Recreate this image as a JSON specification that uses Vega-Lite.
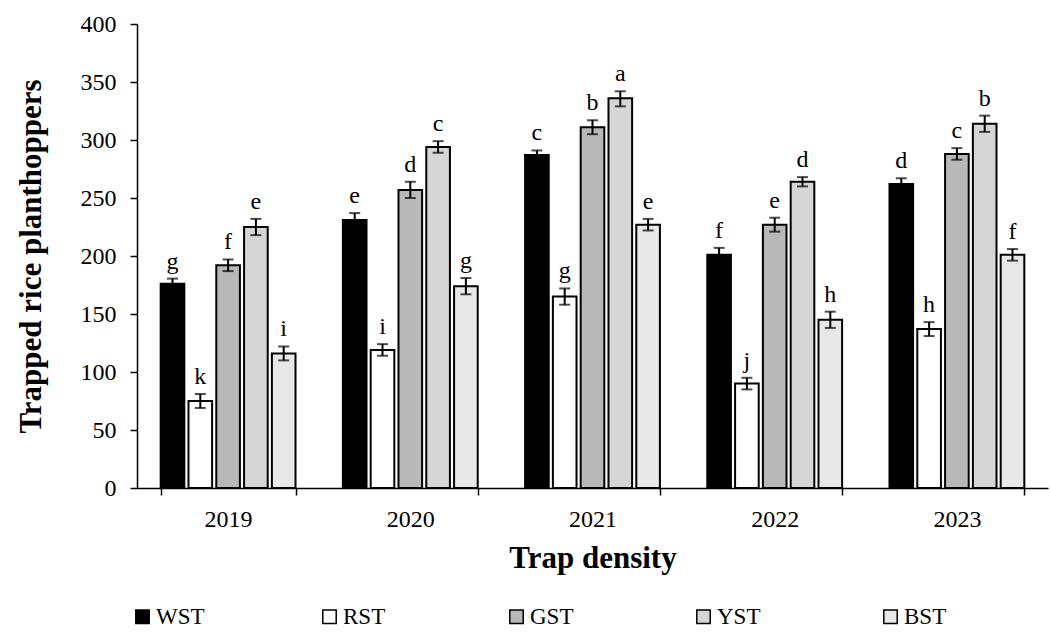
{
  "$schema": "https://vega.github.io/schema/vega-lite/v6.json",
  "width": 911,
  "height": 464,
  "autosize": {"type": "none"},
  "padding": {"left": 137, "top": 24, "right": 3, "bottom": 149},
  "background": "white",
  "config": {
    "view": {"stroke": null},
    "font": "Liberation Serif",
    "axis": {
      "domainColor": "black",
      "domainWidth": 1.5,
      "tickColor": "black",
      "tickWidth": 1.5,
      "tickSize": 7,
      "labelColor": "black",
      "labelFont": "Liberation Serif",
      "labelFontSize": 24,
      "titleColor": "black",
      "titleFont": "Liberation Serif",
      "titleFontSize": 31,
      "titleFontWeight": "bold",
      "grid": false
    },
    "legend": {
      "labelFont": "Liberation Serif",
      "labelFontSize": 23,
      "labelColor": "black"
    }
  },
  "data": {
    "values": [
      {"year": "2019", "trap": "WST", "value": 176, "lo": 171.5, "hi": 180.5, "letter": "g"},
      {"year": "2019", "trap": "RST", "value": 75, "lo": 69, "hi": 81, "letter": "k"},
      {"year": "2019", "trap": "GST", "value": 192, "lo": 187, "hi": 197, "letter": "f"},
      {"year": "2019", "trap": "YST", "value": 225, "lo": 218, "hi": 232, "letter": "e"},
      {"year": "2019", "trap": "BST", "value": 116, "lo": 110, "hi": 122, "letter": "i"},
      {"year": "2020", "trap": "WST", "value": 231, "lo": 225, "hi": 237, "letter": "e"},
      {"year": "2020", "trap": "RST", "value": 119, "lo": 114, "hi": 124, "letter": "i"},
      {"year": "2020", "trap": "GST", "value": 257, "lo": 250, "hi": 264, "letter": "d"},
      {"year": "2020", "trap": "YST", "value": 294, "lo": 289, "hi": 299, "letter": "c"},
      {"year": "2020", "trap": "BST", "value": 174, "lo": 167, "hi": 181, "letter": "g"},
      {"year": "2021", "trap": "WST", "value": 287, "lo": 283, "hi": 291, "letter": "c"},
      {"year": "2021", "trap": "RST", "value": 165, "lo": 158, "hi": 172, "letter": "g"},
      {"year": "2021", "trap": "GST", "value": 311, "lo": 305, "hi": 317, "letter": "b"},
      {"year": "2021", "trap": "YST", "value": 336, "lo": 329, "hi": 342, "letter": "a"},
      {"year": "2021", "trap": "BST", "value": 227, "lo": 222, "hi": 232, "letter": "e"},
      {"year": "2022", "trap": "WST", "value": 201, "lo": 195, "hi": 207, "letter": "f"},
      {"year": "2022", "trap": "RST", "value": 90, "lo": 85, "hi": 95, "letter": "j"},
      {"year": "2022", "trap": "GST", "value": 227, "lo": 221, "hi": 233, "letter": "e"},
      {"year": "2022", "trap": "YST", "value": 264, "lo": 260, "hi": 268, "letter": "d"},
      {"year": "2022", "trap": "BST", "value": 145, "lo": 138, "hi": 152, "letter": "h"},
      {"year": "2023", "trap": "WST", "value": 262, "lo": 257, "hi": 267, "letter": "d"},
      {"year": "2023", "trap": "RST", "value": 137, "lo": 131, "hi": 143, "letter": "h"},
      {"year": "2023", "trap": "GST", "value": 288, "lo": 283, "hi": 293, "letter": "c"},
      {"year": "2023", "trap": "YST", "value": 314, "lo": 307, "hi": 321, "letter": "b"},
      {"year": "2023", "trap": "BST", "value": 201, "lo": 196, "hi": 206, "letter": "f"}
    ]
  },
  "encoding": {
    "x": {
      "field": "year",
      "type": "nominal",
      "scale": {"paddingInner": 0.26, "paddingOuter": 0.13},
      "axis": {
        "title": "Trap density",
        "labelAngle": 0,
        "tickBand": "extent",
        "labelPadding": 12,
        "titlePadding": 12
      }
    },
    "xOffset": {
      "field": "trap",
      "type": "nominal",
      "sort": ["WST", "RST", "GST", "YST", "BST"],
      "scale": {"paddingInner": 0.15, "paddingOuter": 0}
    }
  },
  "layer": [
    {
      "mark": {"type": "bar", "stroke": "black", "strokeWidth": 2},
      "encoding": {
        "y": {
          "field": "value",
          "type": "quantitative",
          "scale": {"domain": [0, 400], "nice": false},
          "axis": {
            "title": "Trapped rice planthoppers",
            "values": [0, 50, 100, 150, 200, 250, 300, 350, 400],
            "labelPadding": 14,
            "titlePadding": 33
          }
        },
        "fill": {
          "field": "trap",
          "type": "nominal",
          "sort": ["WST", "RST", "GST", "YST", "BST"],
          "scale": {
            "domain": ["WST", "RST", "GST", "YST", "BST"],
            "range": ["#000000", "#ffffff", "#b8b8b8", "#d6d6d6", "#e8e8e8"]
          },
          "legend": {
            "title": null,
            "orient": "none",
            "legendX": -6,
            "legendY": 581,
            "direction": "horizontal",
            "columns": 5,
            "gridAlign": "all",
            "columnPadding": 113,
            "padding": 0,
            "symbolType": "square",
            "symbolSize": 180,
            "symbolStrokeColor": "black",
            "symbolStrokeWidth": 1.5,
            "symbolOpacity": 1,
            "labelOffset": 2
          }
        }
      }
    },
    {
      "mark": {"type": "rule", "color": "black", "strokeWidth": 2},
      "encoding": {
        "y": {"field": "lo", "type": "quantitative"},
        "y2": {"field": "hi"}
      }
    },
    {
      "mark": {"type": "tick", "color": "black", "size": 11, "thickness": 2, "orient": "horizontal"},
      "encoding": {"y": {"field": "hi", "type": "quantitative"}}
    },
    {
      "mark": {"type": "tick", "color": "black", "size": 11, "thickness": 2, "orient": "horizontal"},
      "encoding": {"y": {"field": "lo", "type": "quantitative"}}
    },
    {
      "mark": {"type": "text", "baseline": "alphabetic", "dy": -10, "fontSize": 24, "font": "Liberation Serif", "color": "black"},
      "encoding": {
        "y": {"field": "hi", "type": "quantitative"},
        "text": {"field": "letter"}
      }
    }
  ]
}
